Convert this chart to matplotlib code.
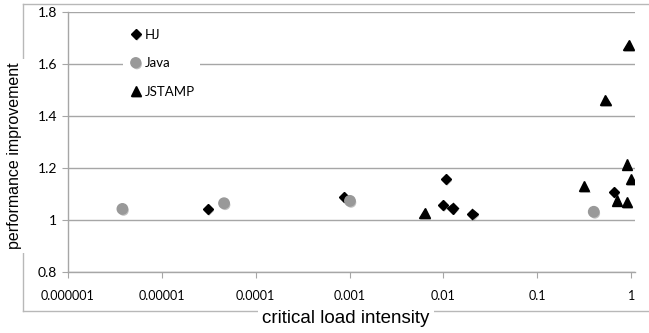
import matplotlib
matplotlib.use("Agg")
import matplotlib.pyplot as plt
import matplotlib.patheffects as pe
from matplotlib.lines import Line2D

# ── data ──────────────────────────────────────────────────────────────────
hj_x = [3.1e-5, 8.8e-4, 0.0107, 0.0099, 0.0125, 0.0204, 0.66]
hj_y = [1.041, 1.088, 1.157, 1.057, 1.044, 1.021, 1.106]

java_x = [3.8e-6, 4.6e-5, 0.00101, 0.40]
java_y = [1.042, 1.064, 1.073, 1.031]

jstamp_x = [0.0063, 0.317, 0.708, 0.905, 1.0, 0.905, 0.531, 0.938]
jstamp_y = [1.027, 1.130, 1.074, 1.068, 1.157, 1.214, 1.462, 1.674]

x_ticks = [1e-6, 1e-5, 1e-4, 1e-3, 1e-2, 1e-1, 1]
x_tick_labels = ["0.000001", "0.00001", "0.0001", "0.001", "0.01", "0.1", "1"]
y_ticks = [0.8, 1.0, 1.2, 1.4, 1.6, 1.8]
y_tick_labels = ["0.8", "1", "1.2", "1.4", "1.6", "1.8"]

GRID = "#a6a6a6"
GREY_PT = "#999999"
TICK_FONT = "Lato"
LABEL_FONT = "Liberation Sans"

fig = plt.figure(figsize=(6.49, 3.33), dpi=100)
ax = fig.add_axes([68 / 649, 1 - 271.7 / 333, 567 / 649, 259.4 / 333])

shadow = [pe.SimplePatchShadow(offset=(0.8, -1.2), shadow_rgbFace="#777777", alpha=0.45), pe.Normal()]

ax.plot(hj_x, hj_y, ls="none", marker="D", ms=5.2, color="black", label="HJ",
        path_effects=shadow, zorder=3)
ax.plot(java_x, java_y, ls="none", marker="o", ms=7.5, color=GREY_PT, label="Java",
        path_effects=shadow, zorder=3)
ax.plot(jstamp_x, jstamp_y, ls="none", marker="^", ms=7.5, color="black", label="JSTAMP",
        path_effects=shadow, zorder=3)

ax.set_xscale("log")
ax.set_xlim(1e-6, 1.1)
ax.set_ylim(0.8, 1.8)
ax.set_xticks(x_ticks)
ax.set_xticklabels(x_tick_labels, fontsize=9, family=TICK_FONT)
ax.xaxis.set_minor_locator(matplotlib.ticker.NullLocator())
ax.set_yticks(y_ticks)
ax.set_yticklabels(y_tick_labels, fontsize=10, family=TICK_FONT)
ax.tick_params(axis="x", length=4, color=GRID, pad=9)
ax.tick_params(axis="y", length=4, color=GRID, pad=4)

ax.grid(axis="y", color=GRID, linewidth=1)
ax.set_axisbelow(True)
for side in ("top", "right"):
    ax.spines[side].set_visible(False)
for side in ("left", "bottom"):
    ax.spines[side].set_color(GRID)
    ax.spines[side].set_linewidth(1)

ax.legend(loc="upper left", bbox_to_anchor=(48 / 567, 1 - 4 / 259.4),
          frameon=True, framealpha=1, edgecolor="none", fancybox=False,
          prop={"family": TICK_FONT, "size": 9.5}, handletextpad=0.1,
          handlelength=1.1, labelspacing=1.25, borderpad=0.45, markerscale=0.95)

ax.set_xlabel("critical load intensity", fontsize=13.5, family=LABEL_FONT,
              bbox=dict(facecolor="white", edgecolor="none", pad=3))
ax.set_ylabel("performance improvement", fontsize=11.5, family=LABEL_FONT,
              bbox=dict(facecolor="white", edgecolor="none", pad=3))
ax.xaxis.set_label_coords((346 - 68) / 567, (271.7 - 310) / 259.4)
ax.yaxis.set_label_coords((22 - 68) / 567, (271.7 - 156) / 259.4)
ax.xaxis.label.set_zorder(5)
ax.yaxis.label.set_zorder(5)

# outer chart frame (Excel-style), broken by the axis labels
W, H = 649, 333
frame_kw = dict(color="#b8b8b8", linewidth=1, transform=fig.transFigure, zorder=-1)
fig.add_artist(Line2D([23 / W, 1], [1 - 4 / H, 1 - 4 / H], **frame_kw))
fig.add_artist(Line2D([23 / W, 23 / W], [1 - 4 / H, 1 - 311 / H], **frame_kw))
fig.add_artist(Line2D([23 / W, 1], [1 - 311 / H, 1 - 311 / H], **frame_kw))

fig.savefig("out.png", dpi=100)
